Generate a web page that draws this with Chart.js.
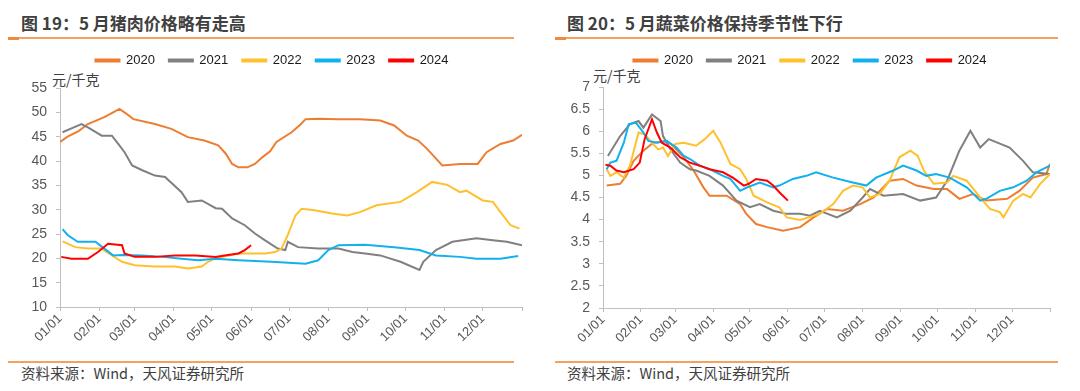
<!DOCTYPE html>
<html>
<head>
<meta charset="utf-8">
<script src="https://cdn.jsdelivr.net/npm/chart.js@4.4.1/dist/chart.umd.min.js"></script>
<style>
  body { margin: 0; width: 1080px; height: 391px; background: #fff; position: relative; overflow: hidden;
         font-family: "Noto Sans CJK SC", sans-serif; }
  .title { position: absolute; top: 13px; line-height: 20px; font-size: 17px; font-weight: bold; color: #404040; }
  .rule { position: absolute; height: 1.5px; background: #f7a15e; }
  .tab { position: absolute; height: 3px; width: 11px; background: #f08a3c; }
  .unit { position: absolute; line-height: 20px; font-size: 14px; color: #404040; }
  .src { position: absolute; top: 363px; line-height: 20px; font-size: 14.5px; color: #404040; }
  .box { position: absolute; top: 40px; width: 540px; height: 320px; }
</style>
</head>
<body>
<div class="title" style="left:21px">图 19：5 月猪肉价格略有走高</div>
<div class="title" style="left:567px">图 20：5 月蔬菜价格保持季节性下行</div>
<div class="rule" style="left:8px;width:506px;top:37px"></div>
<div class="tab" style="left:8px;top:37px"></div>
<div class="rule" style="left:555px;width:503px;top:37px"></div>
<div class="tab" style="left:555px;top:37px"></div>
<div class="unit" style="left:52px;top:69px">元/千克</div>
<div class="unit" style="left:593px;top:65px">元/千克</div>
<div class="box" style="left:0px"><canvas id="pork"></canvas></div>
<div class="box" style="left:540px"><canvas id="veg"></canvas></div>
<div class="rule" style="left:8px;width:506px;top:361px"></div>
<div class="rule" style="left:555px;width:503px;top:361px"></div>
<div class="src" style="left:21px">资料来源：Wind，天风证券研究所</div>
<div class="src" style="left:567px">资料来源：Wind，天风证券研究所</div>

<script>
// x = day of year (0 = 01/01), y = price
var years = ['2020', '2021', '2022', '2023', '2024'];
var colors = ['#ed7d31', '#808080', '#ffc02e', '#13b0ee', '#ff0000'];
var monthStarts = [0, 31, 59, 90, 120, 151, 181, 212, 243, 273, 304, 334];
var monthLabels = ['01/01', '02/01', '03/01', '04/01', '05/01', '06/01', '07/01', '08/01', '09/01', '10/01', '11/01', '12/01'];

// 猪肉价格
var pork2020 = [[0,43.9],[6,45.0],[15,46.2],[22,47.6],[35,49.0],[42,50.0],[47,50.7],[52,49.8],[58,48.6],[75,47.6],[88,46.6],[101,44.9],[114,44.2],[125,43.2],[131,41.5],[136,39.4],[141,38.7],[148,38.7],[154,39.4],[160,40.8],[166,42.0],[171,43.9],[183,45.9],[190,47.5],[194,48.6],[205,48.7],[220,48.6],[237,48.6],[253,48.3],[264,47.3],[274,45.2],[283,44.2],[290,42.5],[296,40.8],[302,39.1],[316,39.4],[330,39.4],[337,41.8],[348,43.5],[358,44.2],[365,45.4]];
var pork2021 = [[2,45.9],[10,46.8],[17,47.6],[22,46.9],[33,45.2],[41,45.2],[46,43.5],[51,41.8],[57,39.1],[65,38.1],[75,37.0],[83,36.7],[96,33.6],[101,31.6],[112,31.9],[123,30.3],[128,30.2],[136,28.2],[146,26.8],[154,25.1],[162,23.7],[172,22.0],[178,21.7],[180,23.4],[188,22.3],[204,22.0],[220,22.0],[231,21.3],[241,21.0],[253,20.6],[269,19.3],[284,17.6],[287,19.3],[297,21.7],[310,23.4],[329,24.1],[342,23.7],[353,23.4],[365,22.7]];
var pork2022 = [[2,23.5],[12,22.3],[22,22.0],[33,22.0],[41,20.6],[49,19.3],[59,18.6],[75,18.3],[91,18.3],[101,17.9],[112,18.3],[117,19.3],[123,20.0],[141,21.0],[162,21.0],[170,21.3],[175,22.0],[180,24.8],[186,28.8],[191,30.2],[201,29.9],[215,29.2],[227,28.8],[237,29.5],[250,30.9],[269,31.6],[282,33.6],[294,35.7],[306,35.1],[316,33.6],[321,33.9],[334,31.9],[342,31.6],[348,29.5],[356,26.8],[363,26.1]];
var pork2023 = [[2,26.0],[6,24.8],[14,23.4],[28,23.4],[35,22.0],[42,20.6],[49,20.7],[65,20.6],[81,20.3],[96,19.9],[109,19.6],[123,19.9],[141,19.6],[167,19.3],[194,18.9],[204,19.6],[212,21.7],[220,22.7],[241,22.8],[264,22.3],[284,21.7],[297,20.6],[316,20.3],[329,19.9],[348,19.9],[362,20.5]];
var pork2024 = [[1,20.3],[9,19.9],[22,19.9],[30,21.3],[38,23.0],[49,22.7],[51,21.0],[59,20.3],[75,20.3],[91,20.6],[107,20.6],[123,20.3],[130,20.6],[141,21.0],[146,21.7],[151,22.7]];

// 蔬菜价格
var veg2020 = [[3,4.77],[14,4.81],[19,4.99],[25,5.33],[33,5.56],[41,5.74],[52,5.78],[57,5.67],[66,5.41],[74,5.11],[82,4.73],[87,4.54],[101,4.54],[112,4.35],[117,4.13],[125,3.90],[134,3.83],[147,3.75],[161,3.83],[172,4.05],[183,4.24],[196,4.20],[210,4.35],[221,4.50],[234,4.88],[245,4.92],[256,4.77],[270,4.69],[281,4.69],[291,4.47],[302,4.58],[313,4.43],[330,4.47],[340,4.65],[351,4.95],[362,5.03],[365,5.26]];
var veg2021 = [[4,5.44],[14,5.89],[22,6.16],[29,6.23],[33,6.08],[40,6.38],[47,6.23],[49,5.89],[55,5.59],[63,5.29],[71,5.14],[76,5.11],[87,4.99],[98,4.77],[109,4.43],[120,4.28],[128,4.35],[139,4.20],[150,4.13],[161,4.13],[169,4.09],[177,4.20],[191,4.05],[202,4.20],[212,4.50],[218,4.69],[229,4.54],[245,4.58],[259,4.43],[272,4.50],[281,4.88],[291,5.56],[300,6.01],[308,5.63],[315,5.82],[332,5.63],[343,5.33],[351,5.07],[365,5.03]];
var veg2022 = [[3,5.14],[6,4.99],[11,5.07],[17,4.95],[22,5.22],[29,5.97],[34,5.93],[41,5.71],[45,5.59],[49,5.63],[53,5.44],[59,5.71],[66,5.74],[76,5.67],[83,5.82],[90,6.01],[96,5.74],[104,5.26],[112,5.14],[117,4.92],[123,4.54],[134,4.39],[144,4.28],[150,4.05],[161,3.99],[177,4.13],[188,4.35],[196,4.65],[204,4.77],[212,4.73],[218,4.50],[226,4.58],[234,4.88],[242,5.41],[251,5.56],[257,5.44],[262,5.11],[270,4.81],[281,4.84],[286,4.99],[297,4.88],[308,4.50],[316,4.24],[324,4.17],[327,4.05],[335,4.43],[343,4.58],[349,4.50],[357,4.81],[365,5.03]];
var veg2023 = [[3,5.14],[6,5.29],[11,5.33],[17,5.74],[21,6.16],[27,6.19],[33,5.97],[37,5.78],[44,5.74],[52,5.78],[60,5.63],[66,5.44],[71,5.37],[79,5.22],[87,5.14],[98,4.99],[104,4.92],[112,4.65],[117,4.72],[128,4.84],[139,4.73],[144,4.77],[155,4.92],[166,4.99],[174,5.07],[188,4.95],[204,4.84],[215,4.77],[223,4.95],[237,5.11],[245,5.22],[256,5.11],[264,4.99],[272,5.03],[283,4.95],[297,4.73],[308,4.43],[313,4.47],[324,4.65],[335,4.73],[346,4.88],[354,5.07],[362,5.18],[365,5.22]];
var veg2024 = [[2,5.24],[6,5.22],[11,5.11],[17,5.07],[25,5.14],[30,5.29],[34,5.82],[40,6.27],[44,5.97],[48,5.74],[55,5.63],[63,5.41],[71,5.29],[79,5.22],[87,5.14],[98,5.07],[106,4.95],[115,4.77],[119,4.81],[125,4.92],[134,4.88],[139,4.77],[144,4.62],[151,4.43]];

var axisColor = '#bfbfbf';
var tickFont = { family: '"Liberation Sans", Arial, sans-serif', size: 14 };

function buildChart(id, series, yMin, yMax, yStep, padL, padR, yWidth, legendGap, xHeight) {
    var datasets = series.map(function (s, i) {
        return {
            label: years[i],
            data: s.map(function (p) { return { x: p[0], y: p[1] }; }),
            borderColor: colors[i],
            backgroundColor: colors[i],
            borderWidth: 2,
            pointRadius: 0,
            tension: 0,
            order: series.length - i
        };
    });

    // extra space under the legend
    var legendSpace = {
        id: 'legendSpace',
        beforeInit: function (chart) {
            var fit = chart.legend.fit;
            chart.legend.fit = function () {
                fit.call(this);
                this.height += legendGap;
            };
        }
    };

    return new Chart(document.getElementById(id).getContext('2d'), {
        type: 'line',
        data: { datasets: datasets },
        plugins: [legendSpace],
        options: {
            responsive: true,
            maintainAspectRatio: false,
            animation: false,
            layout: { padding: { left: padL, right: padR, top: 0, bottom: 0 } },
            plugins: {
                tooltip: { enabled: false },
                legend: {
                    reverse: true,
                    labels: {
                        boxWidth: 24,
                        boxHeight: 2,
                        padding: 14,
                        color: '#1a1a1a',
                        font: { family: '"Liberation Sans", Arial, sans-serif', size: 13 }
                    }
                }
            },
            scales: {
                x: {
                    type: 'linear',
                    min: 0,
                    max: 365,
                    afterBuildTicks: function (scale) {
                        scale.ticks = monthStarts.concat([365]).map(function (v) { return { value: v }; });
                    },
                    afterFit: function (scale) { scale.height = xHeight; },
                    ticks: {
                        autoSkip: false,
                        minRotation: 45,
                        maxRotation: 45,
                        padding: 0,
                        color: '#595959',
                        font: { family: '"Liberation Sans", Arial, sans-serif', size: 13 },
                        callback: function (value, index) {
                            return index < monthLabels.length ? monthLabels[index] : '';
                        }
                    },
                    grid: { drawOnChartArea: false, drawTicks: true, tickLength: 4, color: axisColor },
                    border: { color: axisColor, width: 1 }
                },
                y: {
                    min: yMin,
                    max: yMax,
                    afterFit: function (scale) { scale.width = yWidth; },
                    ticks: {
                        stepSize: yStep,
                        color: '#595959',
                        font: tickFont,
                        padding: 9,
                        callback: function (value) { return String(Number(value.toFixed(1))); }
                    },
                    grid: { drawOnChartArea: false, drawTicks: true, tickLength: 4, color: axisColor },
                    border: { color: axisColor, width: 1 }
                }
            }
        }
    });
}

buildChart('pork', [pork2020, pork2021, pork2022, pork2023, pork2024], 10, 55, 5, 22, 18, 38, 11, 53);
buildChart('veg', [veg2020, veg2021, veg2022, veg2023, veg2024], 2, 7, 0.5, 30, 30, 33, 10, 52);
</script>
</body>
</html>
